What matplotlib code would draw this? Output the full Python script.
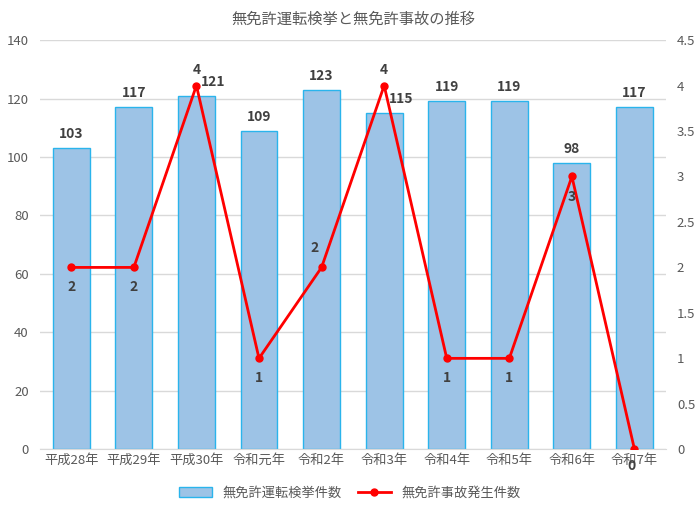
import matplotlib
matplotlib.use('Agg')
import matplotlib.pyplot as plt
import numpy as np

plt.rcParams['font.family'] = ['Noto Sans CJK JP', 'DejaVu Sans']

years = ['平成28年', '平成29年', '平成30年', '令和元年', '令和2年',
         '令和3年', '令和4年', '令和5年', '令和6年', '令和7年']
arrests = [103, 117, 121, 109, 123, 115, 119, 119, 98, 117]
accidents = [2, 2, 4, 1, 2, 4, 1, 1, 3, 0]

# where each accident label sits: (dx, dy) in points
acc_off = [(0, -14), (0, -14), (0, 11), (0, -14), (-5, 14),
           (0, 11), (0, -14), (0, -14), (0, -15), (-2, -12)]

grey = '#595959'
x = np.arange(len(years))

fig = plt.figure(figsize=(7, 5.09), dpi=100)
ax = fig.add_axes([0.0571, 0.1173, 0.894, 0.804])
ax2 = ax.twinx()

bars = ax.bar(x, arrests, width=0.59, color='#9dc3e6', edgecolor='#2ab4ec',
              linewidth=1, label='無免許運転検挙件数', zorder=2)
ax.set_ylim(0, 140)
ax.set_yticks(range(0, 141, 20))
ax.set_xlim(-0.5, len(years) - 0.5)
ax.set_xticks(x)
ax.set_xticklabels(years)
ax.grid(axis='y', color='#d9d9d9', linewidth=1, zorder=0)
ax.set_axisbelow(True)

for i, v in enumerate(arrests):
    # bars where the line peaks get their label pushed right
    dx = 12 if i in (2, 5) else 0
    ax.annotate(str(v), (x[i], v), xytext=(dx, 5), textcoords='offset points',
                ha='center', va='bottom', fontsize=10, fontweight='bold',
                color='#404040')

line, = ax2.plot(x, accidents, color='#ff0000', linewidth=2, marker='o',
                 markersize=5, label='無免許事故発生件数', zorder=3)
ax2.set_ylim(0, 4.5)
ax2.set_yticks(np.arange(0, 4.51, 0.5))
ax2.set_yticklabels(['0', '0.5', '1', '1.5', '2', '2.5', '3', '3.5', '4', '4.5'])

for i, v in enumerate(accidents):
    ax2.annotate(str(v), (x[i], v), xytext=acc_off[i], textcoords='offset points',
                 ha='center', va='center', fontsize=10, fontweight='bold',
                 color='#404040')

for a in (ax, ax2):
    for s in a.spines.values():
        s.set_visible(False)
    a.tick_params(length=0, colors=grey, labelsize=9.5)
ax.tick_params(axis='y', pad=8)
ax2.tick_params(axis='y', pad=8)
ax.spines['bottom'].set_visible(True)
ax.spines['bottom'].set_color('#d9d9d9')

ax.set_title('無免許運転検挙と無免許事故の推移', color=grey, fontsize=11, pad=12)

fig.legend([bars, line], ['無免許運転検挙件数', '無免許事故発生件数'],
           loc='lower center', ncol=2, frameon=False, fontsize=9.5,
           labelcolor=grey, bbox_to_anchor=(0.5, -0.005), handlelength=2.5,
           columnspacing=1.2)

fig.savefig('out.png', dpi=100)
